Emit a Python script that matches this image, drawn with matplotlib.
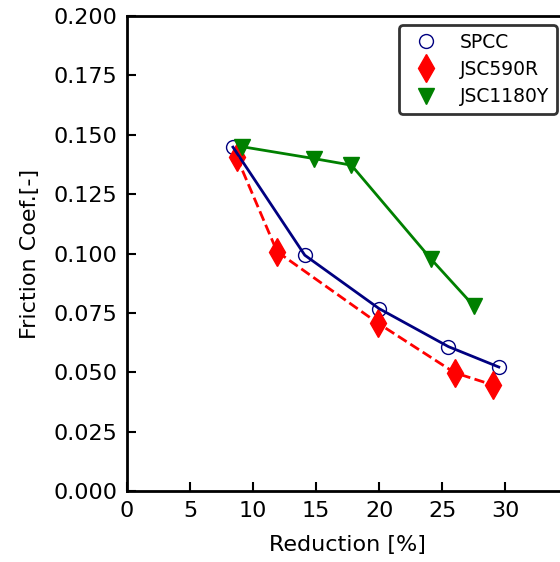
import numpy as np
import matplotlib.pyplot as plt

# data
spcc_x = [8.4, 14.1, 20.0, 25.5, 29.5]
spcc_y = [0.1448, 0.0993, 0.0768, 0.0608, 0.0522]
jsc590_x = [8.7, 11.9, 19.9, 26.0, 29.0]
jsc590_y = [0.1406, 0.1008, 0.0707, 0.0498, 0.0447]
jsc1180_x = [9.1, 14.8, 17.8, 24.1, 27.5]
jsc1180_y = [0.1450, 0.1400, 0.1372, 0.0978, 0.0780]

plt.rcParams['font.size'] = 16

fig = plt.figure(figsize=(5.6, 5.62), dpi=100)
ax = fig.add_axes([0.227, 0.1263, 0.7875, 0.8452])

# markers (legend entries)
ax.plot(spcc_x, spcc_y, 'o', markerfacecolor='none', markeredgecolor='navy',
        markersize=10, markeredgewidth=1.0, linestyle='none', label='SPCC')
ax.plot(jsc590_x, jsc590_y, 'd', color='red', markersize=14,
        linestyle='none', label='JSC590R')
ax.plot(jsc1180_x, jsc1180_y, 'v', color='green', markersize=11,
        linestyle='none', label='JSC1180Y')

# connecting lines
ax.plot(spcc_x, spcc_y, '-', color='navy', linewidth=2)
ax.plot(jsc590_x, jsc590_y, '--', color='red', linewidth=2)
ax.plot(jsc1180_x, jsc1180_y, '-', color='green', linewidth=2)

ax.set_xlim(0, 35)
ax.set_ylim(0, 0.2)
ax.set_xticks([0, 5, 10, 15, 20, 25, 30])
ax.set_yticks(np.arange(0, 0.2001, 0.025))
ax.yaxis.set_major_formatter(plt.FormatStrFormatter('%.3f'))
ax.tick_params(direction='in', length=6.5, width=1.5, pad=7)
for s in ax.spines.values():
    s.set_linewidth(2)

ax.set_xlabel('Reduction [%]', labelpad=10)
ax.set_ylabel('Friction Coef.[-]', labelpad=10)

leg = ax.legend(loc='upper right', bbox_to_anchor=(0.9946, 0.9555),
                bbox_transform=fig.transFigure, borderaxespad=0,
                fontsize=13.5, edgecolor='#333333', framealpha=1,
                handletextpad=0.85, borderpad=0.4, labelspacing=0.45)
leg.get_frame().set_linewidth(2)

fig.savefig('out.png', dpi=100)
